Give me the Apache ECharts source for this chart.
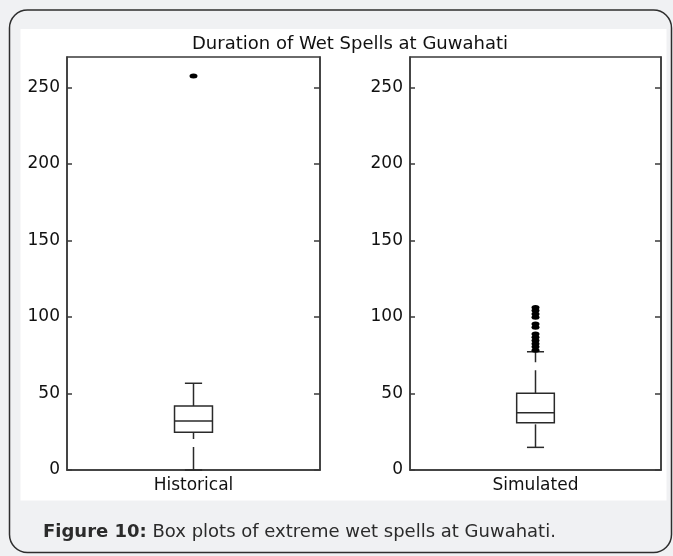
<!DOCTYPE html>
<html>
<head>
<meta charset="utf-8">
<script src="https://cdn.jsdelivr.net/npm/echarts@6/dist/echarts.min.js"></script>
<style>
html,body{margin:0;padding:0;background:#f0f1f3;}
#chart{width:673px;height:556px;}
</style>
</head>
<body>
<div id="chart"></div>
<script>
// ---- data ----
const categories = ['Historical', 'Simulated'];
const titleText = 'Duration of Wet Spells at Guwahati';
const captionBold = 'Figure 10:';
const captionText = ' Box plots of extreme wet spells at Guwahati.';
// [min(whisker), q1, median, q3, max(whisker)]
const boxHistorical = [0, 24.6, 32, 41.8, 56.7];
const boxSimulated = [14.8, 30.9, 37.5, 50.1, 77.3];
const outliersHistorical = [257.5];
const outliersSimulated = [106.3, 104.2, 102, 99.8, 95.4, 93.3, 88.9, 86.8, 84.7, 82.6, 80.5, 78.3];
const yTicks = [0, 50, 100, 150, 200, 250];
const yMin = 0;
const yMax = 270;

const FONT = 'DejaVu Sans';
const INK = '#111';
const LINE = '#3a3a3a';

function renderBox(params, api) {
  const xv = api.value(0);
  const vals = [api.value(1), api.value(2), api.value(3), api.value(4), api.value(5)];
  const p = vals.map(v => api.coord([xv, v]));
  const band = api.size([1, 0])[0];
  const hw = band * 0.075;
  const cw = band * 0.034;
  const cx = p[0][0];
  const st = { stroke: '#2a2a2a', lineWidth: 1.5, fill: null };
  const dash = { stroke: '#2a2a2a', lineWidth: 1.5, lineDash: [23, 8] };
  return {
    type: 'group',
    children: [
      { type: 'line', shape: { x1: cx, y1: p[0][1], x2: cx, y2: p[1][1] }, style: dash },
      { type: 'line', shape: { x1: cx, y1: p[3][1], x2: cx, y2: p[4][1] }, style: dash },
      { type: 'line', shape: { x1: cx - cw, y1: p[0][1], x2: cx + cw, y2: p[0][1] }, style: st },
      { type: 'line', shape: { x1: cx - cw, y1: p[4][1], x2: cx + cw, y2: p[4][1] }, style: st },
      { type: 'rect', shape: { x: cx - hw, y: p[3][1], width: 2 * hw, height: p[1][1] - p[3][1] }, style: { stroke: '#2a2a2a', lineWidth: 1.5, fill: '#fff' } },
      { type: 'line', shape: { x1: cx - hw, y1: p[2][1], x2: cx + hw, y2: p[2][1] }, style: st }
    ]
  };
}

const grids = [
  { left: 67, top: 57, width: 253, height: 413 },
  { left: 410, top: 57, width: 251, height: 413 }
];

const xAxes = [], yAxes = [];
[0, 1].forEach(i => {
  xAxes.push({
    type: 'category', gridIndex: i, data: [categories[i]],
    axisLine: { lineStyle: { color: LINE, width: 1.5 } },
    axisTick: { show: false },
    axisLabel: { color: INK, fontFamily: FONT, fontSize: 17, margin: 7 },
    splitLine: { show: false }
  });
  yAxes.push({
    type: 'value', gridIndex: i, min: yMin, max: yMax, interval: 50,
    axisLine: { show: true, lineStyle: { color: LINE, width: 1.5 } },
    axisTick: { show: true, inside: true, length: 5, customValues: yTicks, lineStyle: { color: LINE, width: 1.5 } },
    axisLabel: { color: INK, fontFamily: FONT, fontSize: 17, margin: 7, customValues: yTicks },
    splitLine: { show: false }
  });
  yAxes.push({
    type: 'value', gridIndex: i, position: 'right', min: yMin, max: yMax, interval: 50,
    axisLine: { show: true, lineStyle: { color: LINE, width: 1.5 } },
    axisTick: { show: true, inside: true, length: 6, customValues: yTicks, lineStyle: { color: LINE, width: 1.5 } },
    axisLabel: { show: false },
    splitLine: { show: false }
  });
});

const option = {
  backgroundColor: '#f0f1f3',
  animation: false,
  graphic: [
    { type: 'rect', z: -20, shape: { x: 9.5, y: 10, width: 662, height: 542.5, r: 18 },
      style: { fill: '#f0f1f3', stroke: '#2e2e2e', lineWidth: 1.5 } },
    { type: 'rect', z: -10, shape: { x: 20.5, y: 29, width: 646, height: 471.5 },
      style: { fill: '#ffffff' } },
    { type: 'text', x: 350, y: 44,
      style: { text: titleText, font: '18px "DejaVu Sans"', fill: INK, align: 'center', verticalAlign: 'middle' } },
    { type: 'text', x: 43, y: 532,
      style: {
        text: '{b|' + captionBold + '}{r|' + captionText + '}',
        verticalAlign: 'middle', align: 'left',
        rich: {
          b: { fontFamily: FONT, fontSize: 18, fontWeight: 'bold', fill: '#2b2b2b', color: '#2b2b2b' },
          r: { fontFamily: FONT, fontSize: 18, fill: '#2b2b2b', color: '#2b2b2b' }
        }
      } }
  ],
  grid: grids.map(g => Object.assign({ show: true, backgroundColor: '#fff', borderColor: LINE, borderWidth: 1.5 }, g)),
  xAxis: xAxes,
  yAxis: yAxes,
  series: [
    { type: 'custom', xAxisIndex: 0, yAxisIndex: 0, renderItem: renderBox,
      encode: { x: 0, y: [1, 2, 3, 4, 5] },
      data: [[0].concat(boxHistorical)] },
    { type: 'custom', xAxisIndex: 1, yAxisIndex: 2, renderItem: renderBox,
      encode: { x: 0, y: [1, 2, 3, 4, 5] },
      data: [[0].concat(boxSimulated)] },
    { type: 'scatter', xAxisIndex: 0, yAxisIndex: 0, symbol: 'circle', symbolSize: [8, 5],
      itemStyle: { color: '#000', opacity: 1 }, data: outliersHistorical.map(v => [0, v]) },
    { type: 'scatter', xAxisIndex: 1, yAxisIndex: 2, symbol: 'circle', symbolSize: [8, 5],
      itemStyle: { color: '#000', opacity: 1 }, data: outliersSimulated.map(v => [0, v]) }
  ]
};

const chart = echarts.init(document.getElementById('chart'), null, { renderer: 'canvas' });
chart.setOption(option);
</script>
</body>
</html>
